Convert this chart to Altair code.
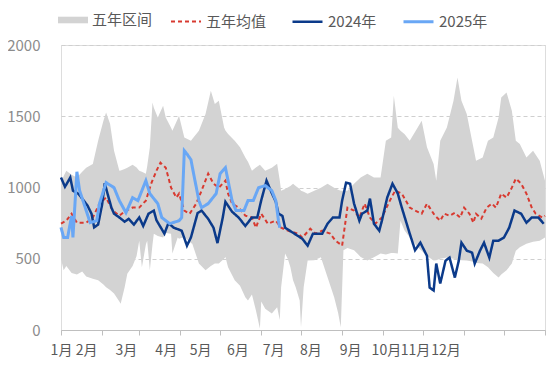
import altair as alt
import pandas as pd

# ---------------- data ----------------
month_labels = ["1月", "2月", "3月", "4月", "5月", "6月", "7月", "8月", "9月", "10月", "11月", "12月"]
month_label_days = [0, 19, 49, 79, 105, 133, 160, 188, 218, 245, 267, 290]
month_start_days = [0, 31, 59, 90, 120, 151, 181, 212, 243, 273, 304, 334, 365]

band_days = [0, 2, 4, 8, 12, 16, 19, 24, 28, 32, 34, 37, 40, 44, 45, 48, 50, 54, 57, 59, 61, 64, 65, 67, 69,
             70, 73, 77, 79, 83, 84, 88, 89, 93, 98, 99, 104, 109, 113, 116, 119, 123, 124, 126, 131, 135,
             139, 141, 144, 147, 150, 151, 154, 159, 163, 165, 166, 169, 171, 173, 175, 177, 180, 181, 183,
             186, 191, 196, 201, 206, 209, 211, 213, 216, 221, 226, 231, 236, 241, 245, 249, 251, 254, 256,
             259, 263, 269, 272, 276, 281, 283, 286, 291, 296, 299, 302, 306, 310, 313, 318, 322, 326, 330,
             332, 336, 340, 343, 346, 351, 356, 361, 365]
band_low = [500, 420, 450, 400, 390, 410, 375, 360, 350, 320, 300, 280, 256, 200, 185, 300, 395, 450, 520, 627,
            440, 600, 627, 420, 600, 676, 660, 650, 680, 676, 536, 650, 640, 653, 610, 606, 466, 420, 450, 466,
            466, 500, 513, 440, 350, 310, 230, 207, 250, 137, 10, 200, 150, 115, 160, 70, 300, 536, 500, 440,
            350, 300, 207, 20, 300, 487, 490, 510, 370, 230, 120, 20, 560, 575, 560, 513, 487, 510, 536, 530,
            540, 540, 536, 767, 700, 650, 580, 557, 520, 487, 490, 500, 508, 500, 495, 490, 487, 480, 470, 466,
            440, 400, 368, 390, 420, 466, 557, 580, 606, 620, 627, 650]
band_high = [1027, 1080, 1118, 1090, 1070, 1110, 1139, 1165, 1328, 1469, 1527, 1447, 1258, 1118, 1120, 1130,
             1139, 1160, 1140, 1118, 1110, 1097, 1150, 1282, 1597, 1560, 1492, 1574, 1492, 1420, 1398, 1480,
             1504, 1351, 1328, 1340, 1398, 1515, 1679, 1586, 1609, 1421, 1400, 1375, 1328, 1282, 1211, 1180,
             1118, 1140, 1160, 1150, 1118, 1139, 1167, 1050, 978, 990, 1000, 1010, 1027, 1010, 990, 978, 970,
             957, 978, 999, 1027, 999, 985, 978, 978, 978, 1027, 1071, 1097, 1071, 1071, 1328, 1351, 1644, 1420,
             1398, 1375, 1328, 1421, 1469, 1282, 1165, 1048, 1328, 1421, 1609, 1772, 1609, 1515, 1328, 1188,
             1211, 1328, 1351, 1492, 1632, 1667, 1539, 1328, 1305, 1211, 1258, 1188, 1048]

mean_days = [0, 4, 8, 12, 19, 24, 29, 34, 39, 44, 49, 54, 59, 64, 68, 72, 75, 79, 83, 87, 89, 93, 97, 102, 106,
             111, 115, 119, 124, 126, 129, 134, 139, 144, 147, 151, 156, 162, 166, 171, 179, 182, 188, 192, 197,
             203, 207, 212, 216, 221, 225, 229, 233, 237, 242, 248, 252, 257, 263, 267, 272, 276, 278, 282, 286,
             289, 293, 297, 301, 304, 308, 311, 313, 317, 321, 325, 328, 332, 336, 340, 343, 347, 351, 355, 358,
             363, 365]
mean_vals = [746, 767, 816, 753, 753, 789, 887, 929, 838, 802, 838, 859, 859, 908, 1027, 1118, 1174, 1139, 999,
             929, 957, 838, 816, 887, 978, 1097, 1027, 999, 1048, 957, 887, 859, 802, 789, 718, 816, 746, 767,
             718, 697, 676, 648, 711, 676, 697, 676, 627, 592, 859, 838, 789, 887, 789, 746, 789, 908, 978, 957,
             859, 838, 816, 887, 859, 802, 767, 816, 802, 823, 789, 859, 816, 753, 816, 781, 859, 887, 859, 957,
             929, 999, 1062, 1027, 957, 859, 816, 789, 802]

y2024_days = [0, 3, 7, 9, 13, 16, 20, 23, 25, 28, 31, 33, 35, 38, 40, 44, 48, 51, 55, 59, 62, 66, 70, 72, 78,
              81, 85, 91, 95, 98, 103, 106, 111, 115, 118, 122, 124, 129, 134, 139, 144, 148, 151, 155, 159, 162,
              164, 167, 169, 176, 182, 186, 190, 197, 201, 205, 210, 212, 215, 218, 221, 225, 227, 231, 233, 236,
              240, 242, 246, 250, 254, 257, 263, 267, 271, 276, 278, 281, 283, 286, 290, 293, 297, 300, 302, 306,
              310, 312, 316, 319, 323, 326, 330, 334, 338, 342, 347, 351, 355, 360, 364]
y2024_vals = [1070, 1005, 1070, 978, 957, 922, 873, 816, 720, 740, 880, 1030, 960, 860, 816, 790, 760, 780, 740,
              790, 730, 816, 838, 770, 676, 750, 718, 697, 592, 650, 820, 838, 780, 718, 610, 790, 900, 830, 789,
              730, 790, 789, 910, 1048, 960, 900, 816, 800, 718, 676, 640, 592, 676, 676, 746, 789, 789, 908, 1034,
              1027, 887, 767, 816, 838, 922, 746, 697, 767, 929, 1027, 957, 859, 676, 560, 613, 520, 298, 277, 466,
              326, 487, 508, 368, 487, 613, 557, 543, 466, 557, 613, 508, 627, 627, 648, 718, 838, 816, 753, 789,
              789, 746]

y2025_days = [0, 2, 5, 8, 9, 12, 14, 22, 27, 29, 34, 40, 44, 49, 54, 58, 64, 67, 73, 76, 82, 89, 91, 93, 95, 98,
              100, 104, 106, 111, 117, 120, 124, 126, 129, 132, 138, 141, 145, 149, 154, 159, 162, 164, 165]
y2025_vals = [720, 650, 650, 800, 650, 1110, 980, 753, 767, 887, 1034, 999, 908, 823, 929, 908, 1048, 957, 887,
              789, 746, 767, 789, 1258, 1235, 1195, 1097, 908, 859, 887, 957, 1097, 1139, 1048, 908, 838, 838, 908,
              908, 999, 1013, 978, 908, 767, 718]

band_name = "五年区间"
series_names = ["五年均值", "2024年", "2025年"]
series_colors = ["#d83a30", "#0b3a8a", "#69a7f5"]

# ---------------- tables ----------------
band_df = pd.DataFrame({"day": band_days, "low": band_low, "high": band_high, "name": band_name})
lines_df = pd.concat([
    pd.DataFrame({"day": mean_days, "value": mean_vals, "series": series_names[0]}),
    pd.DataFrame({"day": y2024_days, "value": y2024_vals, "series": series_names[1]}),
    pd.DataFrame({"day": y2025_days, "value": y2025_vals, "series": series_names[2]}),
], ignore_index=True)

FONT = "Noto Sans CJK SC"

lab_js = "[" + ",".join(str(d) for d in month_label_days) + "]"
txt_js = "[" + ",".join("'" + m + "'" for m in month_labels) + "]"
start_js = "[" + ",".join(str(d) for d in month_start_days) + "]"
label_expr = f"indexof({lab_js}, datum.value) >= 0 ? {txt_js}[indexof({lab_js}, datum.value)] : ''"
tick_test = f"indexof({start_js}, datum.value) >= 0"

x_enc = alt.X(
    "day:Q",
    scale=alt.Scale(domain=[0, 365], nice=False, zero=False),
    axis=alt.Axis(
        title=None,
        values=sorted(set(month_label_days + month_start_days)),
        labelExpr=label_expr,
        labelOverlap=False,
        labelFlush=False,
        grid=False,
        tickSize=5,
        tickColor="#bfbfbf",
        tickOpacity={"condition": {"test": tick_test, "value": 1}, "value": 0},
        domainColor="#bfbfbf",
        labelPadding=8,
        labelFont=FONT,
        labelFontSize=14,
        labelColor="#595959",
    ),
)

y_scale = alt.Scale(domain=[0, 2000], nice=False)
y_axis = alt.Axis(
    title=None,
    values=[0, 500, 1000, 1500, 2000],
    format="d",
    domain=False,
    ticks=False,
    tickSize=0,
    labelPadding=21,
    labelFont=FONT,
    labelFontSize=15,
    labelColor="#8c8c8c",
    grid=True,
    gridColor="#cfcfcf",
    gridDash=[4, 3],
    gridWidth=1,
)

legend_text = dict(labelFont=FONT, labelFontSize=15, labelColor="#595959", labelOffset=4, padding=0)

band = alt.Chart(band_df).mark_area(opacity=1, interpolate="linear").encode(
    x=x_enc,
    y=alt.Y("low:Q", scale=y_scale, axis=y_axis),
    y2="high:Q",
    fill=alt.Fill(
        "name:N",
        scale=alt.Scale(domain=[band_name], range=["#d3d3d3"]),
        legend=alt.Legend(
            title=None, orient="none", legendX=-3, legendY=-40,
            symbolType="M-1,-0.22L1,-0.22L1,0.22L-1,0.22Z", symbolSize=900,
            symbolStrokeWidth=0, symbolOpacity=1, **legend_text,
        ),
    ),
)

line_legend = dict(
    title=None, orient="none", legendX=109, legendY=-40, direction="horizontal",
    symbolType="stroke", symbolSize=900, columnPadding=20, **legend_text,
)

stroke_enc = alt.Stroke("series:N", scale=alt.Scale(domain=series_names, range=series_colors),
                        legend=alt.Legend(**line_legend))
dash_enc = alt.StrokeDash("series:N", scale=alt.Scale(domain=series_names, range=[[4, 3], [1, 0], [1, 0]]),
                          legend=alt.Legend(**line_legend))
width_enc = alt.StrokeWidth("series:N", scale=alt.Scale(domain=series_names, range=[2, 3, 3]),
                            legend=alt.Legend(**line_legend))


def line_layer(name):
    return alt.Chart(lines_df).transform_filter(alt.datum.series == name).mark_line().encode(
        x=x_enc,
        y=alt.Y("value:Q", scale=y_scale, axis=y_axis),
        stroke=stroke_enc,
        strokeDash=dash_enc,
        strokeWidth=width_enc,
    )


chart = alt.layer(
    band, line_layer(series_names[0]), line_layer(series_names[1]), line_layer(series_names[2])
).properties(
    width=484,
    height=285,
    autosize=alt.AutoSizeParams(type="none"),
    padding={"left": 53, "top": 37, "right": 1, "bottom": 32},
).configure_view(
    stroke=None
).configure(background="white")

chart.save("out.html", embed_options={"renderer": "svg", "actions": False})
